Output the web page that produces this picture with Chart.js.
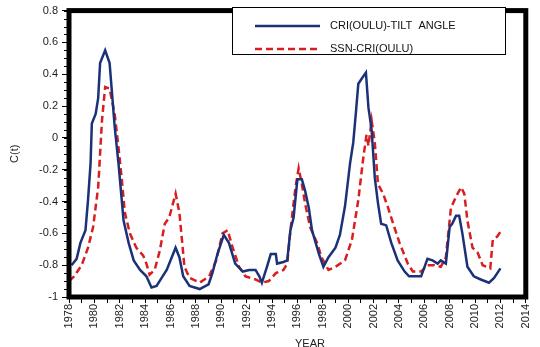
<!DOCTYPE html>
<html>
<head>
<meta charset="utf-8">
<script src="https://cdn.jsdelivr.net/npm/chart.js@4.4.1/dist/chart.umd.min.js"></script>
<style>
  html, body { margin: 0; padding: 0; background: #fff; }
  #wrap { position: relative; width: 540px; height: 347px; }
</style>
</head>
<body>
<div id="wrap"><canvas id="ctChart"></canvas></div>
<script>
// CRI(OULU) vs tilt angle
const tiltYears = [1978.2, 1978.6, 1978.9, 1979.3, 1979.5, 1979.7, 1979.8, 1980.1, 1980.3, 1980.45,
    1980.85, 1981.2, 1981.35, 1981.6, 1981.9, 1982.3, 1982.7, 1983.1, 1983.6, 1984.1,
    1984.5, 1984.9, 1985.3, 1985.7, 1986.1, 1986.4, 1986.7, 1987.0, 1987.5, 1988.3,
    1989.0, 1989.3, 1989.7, 1990.2, 1990.6, 1991.1, 1991.7, 1992.2, 1992.7, 1993.0,
    1993.2, 1993.6, 1993.9, 1994.3, 1994.4, 1994.9, 1995.2, 1995.45, 1995.7, 1996.0,
    1996.35, 1996.6, 1996.9, 1997.15, 1997.7, 1998.05, 1998.45, 1999.0, 1999.35, 1999.75,
    2000.15, 2000.4, 2000.6, 2000.8, 2001.05, 2001.4, 2001.6, 2001.85, 2002.1, 2002.35,
    2002.6, 2003.0, 2003.4, 2003.9, 2004.45, 2004.8, 2005.75, 2006.25, 2006.65, 2007.05,
    2007.3, 2007.7, 2008.0, 2008.2, 2008.5, 2008.75, 2009.0, 2009.4, 2009.9, 2010.45,
    2011.1, 2011.5, 2012.0];
const tiltValues = [-0.80, -0.76, -0.66, -0.58, -0.39, -0.16, 0.09, 0.15, 0.25, 0.47,
    0.55, 0.47, 0.32, 0.07, -0.16, -0.52, -0.66, -0.77, -0.83, -0.87,
    -0.94, -0.93, -0.88, -0.83, -0.75, -0.69, -0.75, -0.87, -0.93, -0.95,
    -0.92, -0.85, -0.73, -0.61, -0.66, -0.79, -0.84, -0.83, -0.83, -0.87,
    -0.91, -0.81, -0.73, -0.73, -0.79, -0.78, -0.77, -0.58, -0.50, -0.26,
    -0.26, -0.33, -0.44, -0.58, -0.73, -0.81, -0.75, -0.69, -0.61, -0.43,
    -0.16, -0.03, 0.15, 0.34, 0.37, 0.41, 0.19, 0.05, -0.25, -0.41,
    -0.54, -0.55, -0.66, -0.77, -0.84, -0.87, -0.87, -0.76, -0.77, -0.79,
    -0.77, -0.79, -0.56, -0.54, -0.49, -0.49, -0.60, -0.81, -0.87, -0.89,
    -0.91, -0.88, -0.82];

// CRI(OULU) vs sunspot number
const ssnYears = [1978.0, 1978.4, 1979.0, 1979.5, 1979.9, 1980.3, 1980.6, 1980.85, 1981.2, 1981.6,
    1981.9, 1982.15, 1982.4, 1982.8, 1983.3, 1983.85, 1984.1, 1984.35, 1984.75, 1985.15,
    1985.55, 1985.9, 1986.4, 1986.7, 1987.1, 1987.5, 1988.3, 1989.05, 1989.6, 1990.1,
    1990.5, 1990.9, 1991.4, 1991.9, 1992.7, 1993.2, 1993.75, 1994.3, 1994.9, 1995.2,
    1995.45, 1995.85, 1996.1, 1996.35, 1996.6, 1997.0, 1997.55, 1997.9, 1998.45, 1999.0,
    1999.75, 2000.3, 2000.8, 2001.2, 2001.45, 2001.6, 2001.85, 2002.1, 2002.35, 2002.75,
    2003.15, 2003.55, 2004.05, 2004.7, 2005.1, 2005.75, 2006.25, 2006.8, 2007.3, 2007.7,
    2008.1, 2008.5, 2008.9, 2009.15, 2009.4, 2009.8, 2010.2, 2010.6, 2011.2, 2011.4,
    2011.75, 2012.0];
const ssnValues = [-0.90, -0.87, -0.80, -0.69, -0.56, -0.31, 0.11, 0.32, 0.31, 0.15,
    -0.06, -0.25, -0.47, -0.60, -0.69, -0.74, -0.79, -0.86, -0.83, -0.71,
    -0.54, -0.50, -0.35, -0.47, -0.81, -0.88, -0.91, -0.87, -0.77, -0.60,
    -0.58, -0.69, -0.81, -0.87, -0.89, -0.91, -0.90, -0.85, -0.83, -0.79,
    -0.58, -0.31, -0.19, -0.29, -0.41, -0.56, -0.66, -0.75, -0.83, -0.81,
    -0.77, -0.64, -0.39, -0.12, 0.02, -0.05, 0.11, -0.03, -0.29, -0.35,
    -0.44, -0.54, -0.66, -0.79, -0.84, -0.84, -0.80, -0.80, -0.81, -0.75,
    -0.44, -0.37, -0.31, -0.35, -0.52, -0.69, -0.72, -0.80, -0.82, -0.64,
    -0.62, -0.59];

const seriesLabels = ["CRI(OULU)-TILT  ANGLE", "SSN-CRI(OULU)"];
const yearMin = 1978, yearMax = 2014;
const ctMin = -1, ctMax = 0.8;

const FONT = "'Liberation Sans', Arial, sans-serif";

function toPoints(xs, ys) {
    return xs.map((x, i) => ({ x: x, y: ys[i] }));
}

// thick frame, minor ticks on the y axis, the x title and the boxed legend
const framePlugin = {
    id: "frame",
    afterDraw(chart) {
        const ctx = chart.ctx;
        const a = chart.chartArea;
        const y = chart.scales.y;
        ctx.save();

        // minor y ticks
        ctx.strokeStyle = "#000";
        ctx.lineWidth = 1;
        for (let v = ctMin; v <= ctMax + 1e-9; v += 0.05) {
            const py = Math.round(y.getPixelForValue(v)) + 0.5;
            ctx.beginPath();
            ctx.moveTo(a.left - 5, py);
            ctx.lineTo(a.left, py);
            ctx.stroke();
        }

        ctx.lineWidth = 5;
        ctx.strokeStyle = "#000";
        ctx.strokeRect(a.left, a.top, a.right - a.left, a.bottom - a.top);

        // x axis title, a bit right of centre and running off the bottom edge
        ctx.font = "11px " + FONT;
        ctx.fillStyle = "#222";
        ctx.textAlign = "center";
        ctx.textBaseline = "alphabetic";
        ctx.fillText("YEAR", 310, 347);
        ctx.textAlign = "left";

        // legend box
        const lx = 232, ly = 7, lw = 273, lh = 47;
        ctx.fillStyle = "#fff";
        ctx.fillRect(lx, ly, lw, lh);
        ctx.lineWidth = 1;
        ctx.strokeRect(lx + 0.5, ly + 0.5, lw, lh);

        const ds = chart.data.datasets;
        const rows = [19, 42];
        ctx.textBaseline = "middle";
        ds.forEach((d, i) => {
            ctx.strokeStyle = d.borderColor;
            ctx.lineWidth = 2.5;
            ctx.setLineDash(d.borderDash || []);
            ctx.beginPath();
            ctx.moveTo(lx + 23, ly + rows[i]);
            ctx.lineTo(lx + 88, ly + rows[i]);
            ctx.stroke();
            ctx.setLineDash([]);
            ctx.fillStyle = "#111";
            ctx.fillText(d.label, lx + 98, ly + rows[i]);
        });
        ctx.restore();
    }
};

let ctChart = new Chart(document.getElementById("ctChart").getContext("2d"), {
    type: "line",
    data: {
        datasets: [{
            label: seriesLabels[0],
            data: toPoints(tiltYears, tiltValues),
            borderColor: "#1b3278",
            borderWidth: 2.5,
            pointRadius: 0,
            tension: 0,
            fill: false
        }, {
            label: seriesLabels[1],
            data: toPoints(ssnYears, ssnValues),
            borderColor: "#d81e1e",
            borderWidth: 2.5,
            borderDash: [7, 4],
            pointRadius: 0,
            tension: 0,
            fill: false
        }]
    },
    options: {
        responsive: true,
        maintainAspectRatio: false,
        animation: false,
        layout: { padding: { left: 0, top: 10, right: 9, bottom: 0 } },
        plugins: {
            legend: { display: false },
            tooltip: { enabled: false }
        },
        scales: {
            x: {
                type: "linear",
                min: yearMin,
                max: yearMax,
                afterFit: s => { s.height = 50; },
                grid: { drawOnChartArea: false, drawTicks: true, tickLength: 6, color: "#000" },
                border: { display: false },
                ticks: {
                    stepSize: 1,
                    autoSkip: false,
                    minRotation: 90,
                    maxRotation: 90,
                    padding: 1,
                    color: "#222",
                    font: { family: FONT, size: 11 },
                    callback: v => (v % 2 === 0 ? String(v) : "")
                },
                title: { display: false }
            },
            y: {
                min: ctMin,
                max: ctMax,
                afterFit: s => { s.width = 69; },
                grid: { drawOnChartArea: false, drawTicks: true, tickLength: 7, color: "#000" },
                border: { display: false },
                ticks: {
                    stepSize: 0.2,
                    padding: 4,
                    color: "#222",
                    font: { family: FONT, size: 11 },
                    callback: v => {
                        const r = Math.round(v * 10) / 10;
                        return r === 0 ? "0" : String(r);
                    }
                },
                title: {
                    display: true,
                    text: "C(t)",
                    color: "#222",
                    padding: { top: 8, bottom: 0 },
                    font: { family: FONT, size: 11 }
                }
            }
        }
    },
    plugins: [framePlugin]
});
</script>
</body>
</html>
